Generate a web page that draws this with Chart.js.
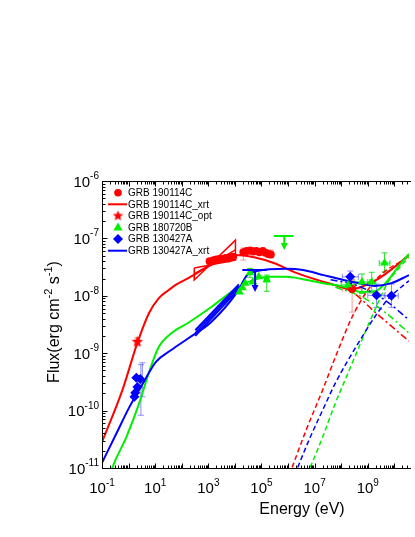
<!DOCTYPE html>
<html>
<head>
<meta charset="utf-8">
<title>GRB SED</title>
<script src="https://cdn.jsdelivr.net/npm/chart.js@4.4.1/dist/chart.umd.min.js"></script>
<style>
html,body{margin:0;padding:0;background:#ffffff;overflow:hidden;}
#wrap{position:relative;width:415px;height:537px;}
</style>
</head>
<body>
<div id="wrap"><canvas id="sed" width="415" height="537"></canvas></div>
<script>
// ---------- axis ranges and tick labels ----------
const xRange = [0.1, 3.55e10];
const yRange = [1e-11, 1e-6];
const xLabelExps = [-1, 1, 3, 5, 7, 9];
const yLabelExps = [-11, -10, -9, -8, -7, -6];

// ---------- observed points ----------
const grb190114cE = [1122, 1585, 1995, 2630, 3548, 4467, 5623, 7079, 8511, 2.09e4, 2.82e4, 3.80e4, 4.79e4, 6.31e4, 8.32e4, 1.12e5, 1.41e5, 1.78e5, 2.24e5, 2.57e8];
const grb190114cF = [3.98e-8, 4.17e-8, 4.27e-8, 4.37e-8, 4.37e-8, 4.57e-8, 4.47e-8, 4.68e-8, 4.79e-8, 5.75e-8, 6.03e-8, 6.17e-8, 5.89e-8, 6.03e-8, 5.75e-8, 6.03e-8, 5.62e-8, 5.37e-8, 5.25e-8, 1.32e-8];
const grb190114cOptE = [2.14];
const grb190114cOptF = [1.58e-9];
const grb180720bE = [1.48e4, 1.91e4, 2.45e4, 3.72e4, 4.79e4, 7.94e4, 1.58e5, 1.82e8, 6.03e8, 1.41e9, 4.27e9];
const grb180720bF = [1.17e-8, 1.38e-8, 1.66e-8, 2.51e-8, 1.74e-8, 2.14e-8, 1.91e-8, 1.55e-8, 1.74e-8, 1.74e-8, 3.72e-8];
const grb130427aE = [1.95, 2.75, 2.14, 1.78, 1.66, 2.19e8, 2.14e9, 7.76e9];
const grb130427aF = [3.72e-10, 3.55e-10, 2.57e-10, 2.04e-10, 1.74e-10, 2.14e-8, 1.02e-8, 1.0e-8];

// error bars: [E, F, Elo, Ehi, Flo, Fhi]
const err190114c = [
  [1122, 3.98e-8, 900, 1400, 3.6e-8, 4.4e-8],
  [3548, 4.37e-8, 2900, 4300, 3.9e-8, 4.9e-8],
  [8511, 4.79e-8, 7000, 1.0e4, 4.3e-8, 5.3e-8],
  [2.09e4, 5.75e-8, 1.7e4, 2.5e4, 4.2e-8, 6.8e-8],
  [6.31e4, 6.03e-8, 5.2e4, 7.6e4, 5.4e-8, 6.7e-8],
  [2.24e5, 5.25e-8, 1.8e5, 2.6e5, 4.6e-8, 6.3e-8],
  [2.57e8, 1.32e-8, 1.1e8, 6.0e8, 5.2e-9, 1.9e-8]
];
const err190114cOpt = [[2.14, 1.58e-9, 2.14, 2.14, 1.35e-9, 1.85e-9]];
const err180720b = [
  [3.72e4, 2.51e-8, 3.72e4, 3.72e4, 2.1e-8, 3.0e-8],
  [1.58e5, 1.91e-8, 1.3e5, 1.9e5, 1.2e-8, 2.3e-8],
  [1.82e8, 1.55e-8, 1.0e8, 3.3e8, 1.3e-8, 1.85e-8],
  [6.03e8, 1.74e-8, 3.0e8, 1.2e9, 1.1e-8, 2.4e-8],
  [1.41e9, 1.74e-8, 1.0e9, 2.0e9, 1.12e-8, 2.57e-8],
  [4.27e9, 3.72e-8, 2.7e9, 6.8e9, 2.6e-8, 5.6e-8]
];
const err130427a = [
  [2.9, 2.82e-10, 2.9, 2.9, 8.3e-11, 6.3e-10],
  [3.3, 3.2e-10, 3.3, 3.3, 1.74e-10, 6.8e-10],
  [2.19e8, 2.14e-8, 1.1e8, 4.4e8, 1.7e-8, 2.7e-8],
  [2.14e9, 1.02e-8, 1.0e9, 4.5e9, 6.3e-9, 1.6e-8],
  [7.76e9, 1.0e-8, 4.1e9, 1.4e10, 6.3e-9, 1.6e-8]
];
// upper limits: [E, F, Elo, Ehi, Farrow]
const ul180720b = [[7.2e5, 1.1e-7, 2.9e5, 1.6e6, 6.3e-8]];
const ul130427a = [[5.75e4, 2.82e-8, 1.9e4, 1.6e5, 1.17e-8]];

// ---------- XRT butterflies ----------
const xrt190114cE = [295, 1.05e4];
const xrt190114cSoftF = [3.05e-8, 4.17e-8];
const xrt190114cHardF = [1.88e-8, 9.33e-8];
const xrt190114cMidF = [2.4e-8, 6.3e-8];
const xrt130427aE = [324, 1.41e4];
const xrt130427aUpF = [2.51e-9, 1.58e-8];
const xrt130427aMidF = [2.24e-9, 1.45e-8];
const xrt130427aLoF = [2.0e-9, 1.32e-8];

// ---------- model curves ----------
const red190TotE = [0.1, 0.589, 2.14, 5.89, 13.8, 32.4, 58.9, 178, 1740, 1.05e4, 5.25e4, 2.88e5, 2.04e6, 3.31e7, 2.57e8, 2.34e9, 1e10, 3.55e10];
const red190TotF = [2.82e-11, 2.29e-10, 1.51e-9, 5.01e-9, 9.12e-9, 1.26e-8, 1.55e-8, 2.04e-8, 3.72e-8, 5.13e-8, 4.68e-8, 3.72e-8, 2.51e-8, 1.66e-8, 1.32e-8, 1.95e-8, 3.16e-8, 5.13e-8];
const red190SscE = [1.12e6, 4.79e6, 2.0e7, 7.76e7, 2.57e8, 1e9, 3.31e9, 1.78e10, 3.55e10];
const red190SscF = [7.6e-12, 4.57e-11, 2.29e-10, 1.15e-9, 4.27e-9, 1.26e-8, 2.4e-8, 3.98e-8, 4.9e-8];
const red190SynE = [3.31e7, 2.57e8, 1.82e9, 3.55e10];
const red190SynF = [1.66e-8, 1.17e-8, 5.25e-9, 1.62e-9];

const grn180TotE = [0.2, 0.234, 0.83, 2.51, 5.89, 13.8, 41.7, 178, 1260, 1.23e4, 5.25e4, 2.04e5, 8.71e5, 3.63e6, 2.19e7, 1.82e8, 5.01e8, 1.82e9, 5.5e9, 1.78e10, 3.55e10];
const grn180TotF = [7.2e-12, 9.5e-12, 3.47e-11, 1.35e-10, 4.68e-10, 1.29e-9, 2.24e-9, 3.39e-9, 6.31e-9, 1.38e-8, 1.91e-8, 2.14e-8, 2.14e-8, 1.95e-8, 1.66e-8, 1.38e-8, 1.17e-8, 1.2e-8, 1.82e-8, 3.72e-8, 5.37e-8];
const grn180SscE = [5.25e6, 2.0e7, 6.03e7, 1.82e8, 6.03e8, 1.82e9, 5.5e9, 1.78e10, 3.55e10];
const grn180SscF = [7.6e-12, 3.47e-11, 1.35e-10, 4.57e-10, 1.7e-9, 5.62e-9, 1.66e-8, 3.31e-8, 4.79e-8];
const grn180SynE = [6.03e7, 6.03e8, 4.27e9, 3.55e10];
const grn180SynF = [1.41e-8, 9.55e-9, 5.25e-9, 2.24e-9];

const blu130TotE = [0.1, 0.355, 1.07, 3.24, 10.7, 41.7, 178, 1260, 1.23e4, 2.88e4, 6.76e4, 8.71e5, 3.63e6, 2.19e7, 1.1e8, 6.03e8, 1.82e9, 7.76e9, 3.55e10];
const blu130TotF = [1.23e-11, 4.07e-11, 1.15e-10, 2.82e-10, 7.08e-10, 1.15e-9, 1.82e-9, 3.47e-9, 1.17e-8, 2.29e-8, 2.69e-8, 2.95e-8, 2.82e-8, 2.29e-8, 1.91e-8, 1.62e-8, 1.48e-8, 1.66e-8, 2.29e-8];
const blu130SscE = [1.78e6, 6.17e6, 2.0e7, 6.03e7, 1.82e8, 6.03e8, 1.82e9, 5.5e9, 1.78e10, 3.55e10];
const blu130SscF = [7.6e-12, 3.09e-11, 1.02e-10, 3.02e-10, 7.59e-10, 1.91e-9, 4.27e-9, 8.51e-9, 1.41e-8, 1.82e-8];
const blu130SynE = [3.98e7, 3.31e8, 4.27e9, 3.55e10];
const blu130SynF = [1.91e-8, 1.55e-8, 8.51e-9, 3.8e-9];

// ---------- colours ----------
const RED = '#ff0000', GREEN = '#00ee00', BLUE = '#0000ff';
const FONT = '"Liberation Sans", Arial, Helvetica, sans-serif';

// ---------- helpers ----------
function pts(E, F) { return E.map((e, i) => ({ x: e, y: F[i] })); }
function bowtie(E, a, b) {
  return [{x:E[0],y:a[0]},{x:E[1],y:a[1]},{x:E[1],y:b[1]},{x:E[0],y:b[0]},{x:E[0],y:a[0]}];
}
function makeStar(r, color) {
  const c = document.createElement('canvas');
  const s = Math.ceil(2 * r + 2);
  c.width = s; c.height = s;
  const g = c.getContext('2d');
  g.fillStyle = color;
  g.beginPath();
  for (let i = 0; i < 10; i++) {
    const rr = i % 2 === 0 ? r : r * 0.45;
    const a = -Math.PI / 2 + i * Math.PI / 5;
    const px = s / 2 + rr * Math.cos(a), py = s / 2 + rr * Math.sin(a);
    if (i === 0) g.moveTo(px, py); else g.lineTo(px, py);
  }
  g.closePath(); g.fill();
  return c;
}
const starImg = makeStar(6, RED);
const starLegend = makeStar(5.5, RED);

function modelLine(E, F, color, dash, width, order) {
  return { data: pts(E, F), showLine: true, borderColor: color, backgroundColor: color,
    borderWidth: width, borderDash: dash, pointRadius: 0, cubicInterpolationMode: 'monotone', order: order };
}
function straight(data, color, width, order) {
  return { data: data, showLine: true, borderColor: color, backgroundColor: color,
    borderWidth: width, pointRadius: 0, tension: 0, order: order };
}
function marks(E, F, color, style, r, order) {
  return { data: pts(E, F), showLine: false, pointStyle: style, pointRadius: r,
    backgroundColor: color, borderColor: color, borderWidth: 0, order: order };
}

const datasets = [
  modelLine(red190TotE, red190TotF, RED, [], 2, 20),
  modelLine(red190SscE, red190SscF, RED, [5, 3], 1.5, 20),
  modelLine(red190SynE, red190SynF, RED, [7, 3, 2, 3], 1.5, 20),
  modelLine(grn180TotE, grn180TotF, GREEN, [], 2, 19),
  modelLine(grn180SscE, grn180SscF, GREEN, [5, 3], 1.5, 19),
  modelLine(grn180SynE, grn180SynF, GREEN, [7, 3, 2, 3], 1.5, 19),
  modelLine(blu130TotE, blu130TotF, BLUE, [], 2, 18),
  modelLine(blu130SscE, blu130SscF, BLUE, [5, 3], 1.5, 18),
  modelLine(blu130SynE, blu130SynF, BLUE, [7, 3, 2, 3], 1.5, 18),
  straight(bowtie(xrt190114cE, xrt190114cSoftF, xrt190114cHardF), RED, 1.5, 10),
  straight(pts(xrt190114cE, xrt190114cMidF), RED, 1.5, 10),
  straight(pts(xrt130427aE, xrt130427aUpF), BLUE, 2, 10),
  straight(pts(xrt130427aE, xrt130427aMidF), BLUE, 2, 10),
  straight(pts(xrt130427aE, xrt130427aLoF), BLUE, 2, 10),
  marks(grb190114cE, grb190114cF, RED, 'circle', 4, 3),
  marks(grb190114cOptE, grb190114cOptF, RED, starImg, 6, 3),
  marks(grb180720bE, grb180720bF, GREEN, 'triangle', 5, 2),
  marks(grb130427aE, grb130427aF, BLUE, 'rectRot', 5, 1)
];

// ---------- plugins ----------
function drawErr(ctx, xs, ys, list, color) {
  ctx.save();
  ctx.strokeStyle = color; ctx.lineWidth = 1;
  list.forEach(p => {
    const x = xs.getPixelForValue(p[0]), y = ys.getPixelForValue(p[1]);
    const xl = xs.getPixelForValue(p[2]), xh = xs.getPixelForValue(p[3]);
    const yl = ys.getPixelForValue(p[4]), yh = ys.getPixelForValue(p[5]);
    ctx.beginPath();
    if (xh - xl > 1) {
      ctx.moveTo(xl, y); ctx.lineTo(xh, y);
      ctx.moveTo(xl, y - 3); ctx.lineTo(xl, y + 3);
      ctx.moveTo(xh, y - 3); ctx.lineTo(xh, y + 3);
    }
    if (yl - yh > 1) {
      ctx.moveTo(x, yl); ctx.lineTo(x, yh);
      ctx.moveTo(x - 3, yl); ctx.lineTo(x + 3, yl);
      ctx.moveTo(x - 3, yh); ctx.lineTo(x + 3, yh);
    }
    ctx.stroke();
  });
  ctx.restore();
}
function drawUL(ctx, xs, ys, list, color) {
  ctx.save();
  ctx.strokeStyle = color; ctx.fillStyle = color; ctx.lineWidth = 2;
  list.forEach(p => {
    const x = xs.getPixelForValue(p[0]), y = ys.getPixelForValue(p[1]);
    const xl = xs.getPixelForValue(p[2]), xh = xs.getPixelForValue(p[3]);
    const ya = ys.getPixelForValue(p[4]);
    ctx.beginPath();
    ctx.moveTo(xl, y); ctx.lineTo(xh, y);
    ctx.moveTo(x, y); ctx.lineTo(x, ya - 5);
    ctx.stroke();
    ctx.beginPath();
    ctx.moveTo(x - 3.5, ya - 7); ctx.lineTo(x + 3.5, ya - 7); ctx.lineTo(x, ya); ctx.closePath();
    ctx.fill();
  });
  ctx.restore();
}
function drawPow(ctx, exp, x, y, align) {
  const base = '10', sup = String(exp);
  ctx.font = '15px ' + FONT;
  const wb = ctx.measureText(base).width;
  ctx.font = '10px ' + FONT;
  const ws = ctx.measureText(sup).width;
  const total = wb + ws;
  const x0 = align === 'center' ? x - total / 2 : x - total;
  ctx.textAlign = 'left'; ctx.textBaseline = 'alphabetic';
  ctx.font = '15px ' + FONT; ctx.fillText(base, x0, y);
  ctx.font = '10px ' + FONT; ctx.fillText(sup, x0 + wb, y - 7.5);
}

const sedPlugin = {
  id: 'sed',
  beforeDatasetsDraw(chart) {
    const ctx = chart.ctx, xs = chart.scales.x, ys = chart.scales.y, a = chart.chartArea;
    ctx.save();
    ctx.beginPath(); ctx.rect(a.left, a.top, a.right - a.left, a.bottom - a.top); ctx.clip();
    drawErr(ctx, xs, ys, err190114c, 'rgba(255,60,60,0.55)');
    drawErr(ctx, xs, ys, err190114cOpt, 'rgba(255,60,60,0.7)');
    drawErr(ctx, xs, ys, err180720b, 'rgba(0,220,0,0.85)');
    drawErr(ctx, xs, ys, err130427a, 'rgba(60,60,255,0.6)');
    ctx.restore();
  },
  afterDatasetsDraw(chart) {
    const ctx = chart.ctx, xs = chart.scales.x, ys = chart.scales.y;
    drawUL(ctx, xs, ys, ul180720b, GREEN);
    drawUL(ctx, xs, ys, ul130427a, BLUE);
  },
  afterDraw(chart) {
    const ctx = chart.ctx, xs = chart.scales.x, ys = chart.scales.y, a = chart.chartArea;
    const L = Math.round(a.left) + 0.5, T = Math.round(a.top) + 0.5, B = Math.round(a.bottom) + 0.5, R = a.right + 2;
    ctx.save();
    ctx.strokeStyle = '#000'; ctx.lineWidth = 1;
    ctx.beginPath();
    ctx.moveTo(L, T); ctx.lineTo(L, B); ctx.lineTo(R, B);
    ctx.moveTo(L, T); ctx.lineTo(R, T);
    for (let k = -1; k <= 10; k++) {
      for (let m = 1; m <= 9; m++) {
        const v = m * Math.pow(10, k);
        if (v < xRange[0] * 0.999 || v > xRange[1]) continue;
        const px = Math.round(xs.getPixelForValue(v)) + 0.5;
        const len = m === 1 ? 5 : 3;
        ctx.moveTo(px, B); ctx.lineTo(px, B - len);
        ctx.moveTo(px, T); ctx.lineTo(px, T + len);
      }
    }
    for (let k = -11; k <= -6; k++) {
      for (let m = 1; m <= 9; m++) {
        const v = m * Math.pow(10, k);
        if (v < yRange[0] * 0.999 || v > yRange[1] * 1.001) continue;
        const py = Math.round(ys.getPixelForValue(v)) + 0.5;
        const len = m === 1 ? 5 : 3;
        ctx.moveTo(L, py); ctx.lineTo(L + len, py);
      }
    }
    ctx.stroke();

    ctx.fillStyle = '#000';
    xLabelExps.forEach(e => drawPow(ctx, e, xs.getPixelForValue(Math.pow(10, e)), 493, 'center'));
    yLabelExps.forEach(e => drawPow(ctx, e, 99, ys.getPixelForValue(Math.pow(10, e)) + 5.5, 'right'));

    ctx.font = '16px ' + FONT; ctx.textAlign = 'center'; ctx.textBaseline = 'alphabetic';
    ctx.fillText('Energy (eV)', 302, 514);
    const parts = [['Flux(erg cm', 16, 0], ['-2', 11, -7], [' s', 16, 0], ['-1', 11, -7], [')', 16, 0]];
    let total = 0;
    parts.forEach(p => { ctx.font = p[1] + 'px ' + FONT; p.push(ctx.measureText(p[0]).width); total += p[3]; });
    ctx.save();
    ctx.translate(59, 322); ctx.rotate(-Math.PI / 2);
    ctx.textAlign = 'left';
    let cx = -total / 2;
    parts.forEach(p => { ctx.font = p[1] + 'px ' + FONT; ctx.fillText(p[0], cx, p[2]); cx += p[3]; });
    ctx.restore();

    const legend = [
      ['GRB 190114C', 'circle', RED],
      ['GRB 190114C_xrt', 'line', RED],
      ['GRB 190114C_opt', 'star', RED],
      ['GRB 180720B', 'triangle', GREEN],
      ['GRB 130427A', 'diamond', BLUE],
      ['GRB 130427A_xrt', 'line', BLUE]
    ];
    ctx.font = '10px ' + FONT; ctx.textAlign = 'left'; ctx.textBaseline = 'middle';
    legend.forEach((it, i) => {
      const y = 192.7 + i * 11.6, mx = 118;
      ctx.fillStyle = it[2]; ctx.strokeStyle = it[2];
      ctx.beginPath();
      if (it[1] === 'circle') { ctx.arc(mx, y, 3.8, 0, Math.PI * 2); ctx.fill(); }
      else if (it[1] === 'line') { ctx.lineWidth = 2; ctx.moveTo(108, y); ctx.lineTo(127, y); ctx.stroke(); }
      else if (it[1] === 'star') { ctx.drawImage(starLegend, mx - starLegend.width / 2, y - starLegend.height / 2); }
      else if (it[1] === 'triangle') { ctx.moveTo(mx, y - 5); ctx.lineTo(mx + 4.6, y + 3); ctx.lineTo(mx - 4.6, y + 3); ctx.closePath(); ctx.fill(); }
      else if (it[1] === 'diamond') { ctx.moveTo(mx, y - 5); ctx.lineTo(mx + 5, y); ctx.lineTo(mx, y + 5); ctx.lineTo(mx - 5, y); ctx.closePath(); ctx.fill(); }
      ctx.fillStyle = '#000';
      ctx.fillText(it[0], 128, y + 0.5);
    });
    ctx.restore();
  }
};

new Chart(document.getElementById('sed'), {
  type: 'scatter',
  data: { datasets: datasets },
  options: {
    responsive: false,
    animation: false,
    events: [],
    layout: { padding: { left: 102, top: 181, right: 0, bottom: 69 } },
    plugins: { legend: { display: false }, tooltip: { enabled: false }, title: { display: false } },
    scales: {
      x: { type: 'logarithmic', min: xRange[0], max: xRange[1], display: false },
      y: { type: 'logarithmic', min: yRange[0], max: yRange[1], display: false }
    }
  },
  plugins: [sedPlugin]
});
</script>
</body>
</html>
